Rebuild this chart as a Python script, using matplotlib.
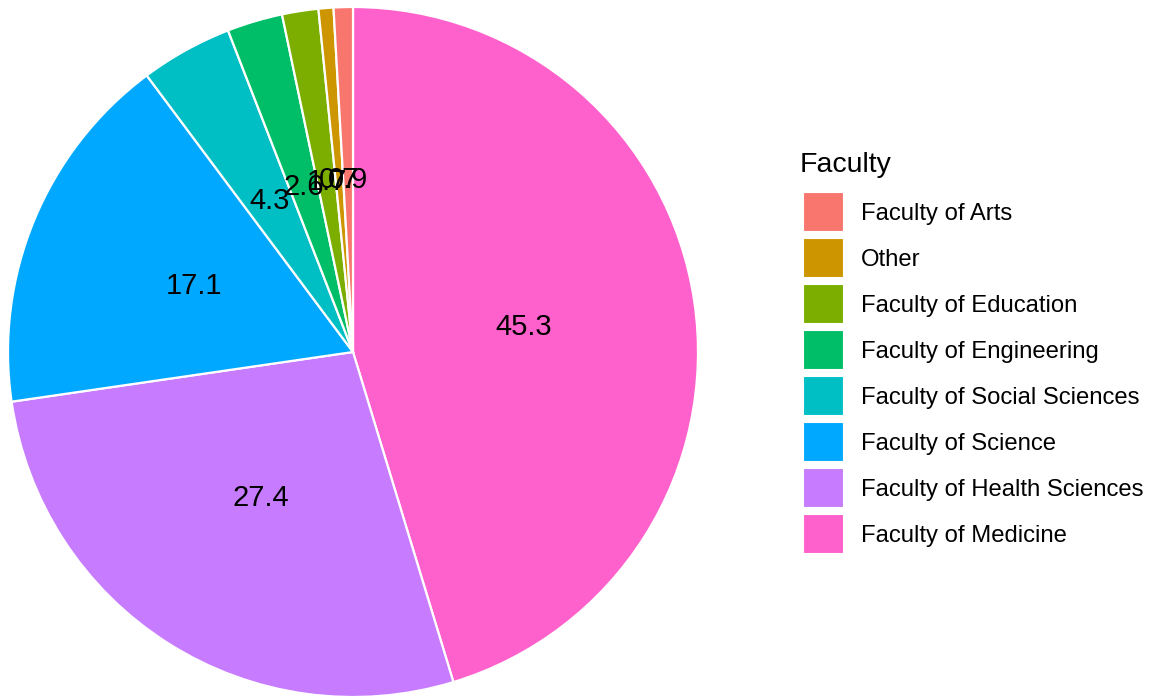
import matplotlib
matplotlib.use("Agg")
import matplotlib.pyplot as plt
from matplotlib.patches import Rectangle
import numpy as np

plt.rcParams['font.family'] = ['Liberation Sans', 'DejaVu Sans']

# Data (clockwise from 12 o'clock)
faculties = ["Faculty of Medicine", "Faculty of Health Sciences", "Faculty of Science",
             "Faculty of Social Sciences", "Faculty of Engineering", "Faculty of Education",
             "Other", "Faculty of Arts"]
values = [45.3, 27.4, 17.1, 4.3, 2.6, 1.7, 0.7, 0.9]
colors = ["#FF61CC", "#C77CFF", "#00A9FF", "#00BFC4", "#00BE67", "#7CAE00", "#CD9600", "#F8766D"]
legend_order = ["Faculty of Arts", "Other", "Faculty of Education", "Faculty of Engineering",
                "Faculty of Social Sciences", "Faculty of Science", "Faculty of Health Sciences",
                "Faculty of Medicine"]
legend_title = "Faculty"

W, H = 1150, 696
fig = plt.figure(figsize=(W / 100, H / 100), dpi=100)
fig.patch.set_facecolor("white")

cx, cy, r = 353, 352, 345
ax = fig.add_axes([(cx - r) / W, (H - cy - r) / H, 2 * r / W, 2 * r / H])

wedges, _ = ax.pie(values, colors=colors, startangle=90, counterclock=False, radius=1,
                   wedgeprops=dict(edgecolor="white", linewidth=1.6))
ax.set_xlim(-1, 1)
ax.set_ylim(-1, 1)
ax.set_aspect("equal")
ax.axis("off")
for w, v in zip(wedges, values):
    ang = np.deg2rad((w.theta1 + w.theta2) / 2)
    ax.text(0.5 * np.cos(ang), 0.5 * np.sin(ang), f"{v:.1f}", ha="center", va="center",
            fontsize=21, color="black")

# Legend drawn manually
fig.text(800 / W, 1 - 172 / H, legend_title, fontsize=20.5, ha="left", va="baseline")
cmap = dict(zip(faculties, colors))
for i, name in enumerate(legend_order):
    yc = 211.5 + 46 * i
    fig.patches.append(Rectangle((803 / W, 1 - (yc + 19.5) / H), 40 / W, 39 / H,
                                 transform=fig.transFigure, facecolor=cmap[name],
                                 edgecolor="white", linewidth=0.8))
    fig.text(861 / W, 1 - yc / H, name, fontsize=17.2, ha="left", va="center_baseline")

fig.savefig("out.png", dpi=100)
